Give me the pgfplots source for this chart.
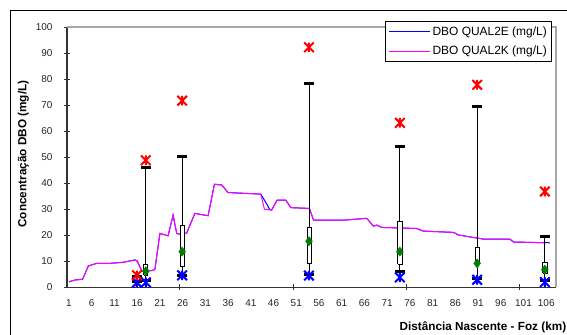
\documentclass[border=0pt]{standalone}
\usepackage{pgfplots}
\pgfplotsset{compat=1.18}
\usepackage{fontspec}
\setmainfont{Liberation Sans}
\definecolor{qblue}{RGB}{0,0,255}
\definecolor{qmag}{RGB}{255,0,255}
\definecolor{qgreen}{RGB}{0,128,0}
\definecolor{qred}{RGB}{255,0,0}
\pgfdeclareplotmark{xstar}{%
  \pgfpathmoveto{\pgfqpoint{-\pgfplotmarksize}{-\pgfplotmarksize}}%
  \pgfpathlineto{\pgfqpoint{\pgfplotmarksize}{\pgfplotmarksize}}%
  \pgfpathmoveto{\pgfqpoint{-\pgfplotmarksize}{\pgfplotmarksize}}%
  \pgfpathlineto{\pgfqpoint{\pgfplotmarksize}{-\pgfplotmarksize}}%
  \pgfpathmoveto{\pgfqpoint{0pt}{-\pgfplotmarksize}}%
  \pgfpathlineto{\pgfqpoint{0pt}{\pgfplotmarksize}}%
  \pgfusepathqstroke}
\begin{document}
\begin{tikzpicture}
\path[use as bounding box] (-67bp,-47.7bp) rectangle (500bp,287.3bp);
\clip (-67bp,-47.7bp) rectangle (500bp,287.3bp);
\draw[black, line width=0.9bp] (-57bp,-80bp) rectangle (540bp,277.3bp);
\begin{axis}[
  scale only axis,
  width=489bp, height=260.3bp,
  xmin=0.56, xmax=108.15, ymin=0, ymax=100,
  clip=false,
  axis x line*=bottom, axis y line*=left,
  axis line style={-, black!80, line width=1.2bp},
  tick align=center,
  major tick length=6bp,
  tick style={black!80, line width=0.9bp},
  ytick={0,10,...,100},
  xtick={25.4,50.35,75.3,100.2},
  xticklabels={,,,},
  extra x ticks={1,6,11,16,21,26,31,36,41,46,51,56,61,66,71,76,81,86,91,96,101,106},
  extra x tick labels={1,6,11,16,21,26,31,36,41,46,51,56,61,66,71,76,81,86,91,96,101,106},
  extra x tick style={major tick length=0pt},
  /pgf/number format/assume math mode=true,
  tick label style={font=\fontsize{10}{12}\selectfont, text=black!85},
  xticklabel style={yshift=-9bp},
  yticklabel style={xshift=-8bp},
  xlabel={\textbf{Distância Nascente - Foz (km)}},
  ylabel={\textbf{Concentração DBO (mg/L)}},
  label style={font=\fontsize{11.8}{14}\selectfont},
  xlabel style={at={(axis description cs:0.673,-0.1525)}, anchor=west},
  ylabel style={at={(axis description cs:-0.089,0.512)}, anchor=center},
  legend style={at={(axis description cs:0.992,1.023)}, anchor=north east,
    draw=black, line width=0.6bp, fill=white,
    font=\fontsize{12}{14}\selectfont, row sep=5bp, inner xsep=3bp, inner ysep=3.5bp},
  legend cell align=left,
  legend image code/.code={\draw[#1] (0bp,0bp) -- (41bp,0bp);},
]
\draw[black!35, line width=1.2bp] (axis cs:0.56,100) -- (axis cs:108.15,100) -- (axis cs:108.15,0);

\addplot[qblue, line width=1bp] coordinates {
(1,2.1)(2.3,2.8)(4.0,3.1)(5.25,8.2)(7.1,9.2)(10,9.2)(12.9,9.6)(15.5,10.5)(16,10.1)
(17,6.4)(19.2,6.4)(19.9,6.9)(21,20.7)(22.8,19.8)(23.9,27.7)(24.7,20.7)(25.8,20.2)
(26.9,20.9)(28.7,28.4)(31.6,27.5)(33,39.6)(34.6,39.3)(36,36.4)(43.2,35.8)(44.5,32.0)
(45.2,29.8)(45.6,29.7)(46.8,33.5)(48.7,33.5)(49.8,30.6)(53.9,30.3)(54.8,25.8)(61.4,25.8)
(66.5,26.5)(68,23.5)(68.7,23.9)(69.8,23.0)(77.5,22.6)(78.9,21.6)(85.6,21.1)(86.7,20.1)
(92.2,18.5)(98,18.5)(98.8,17.4)(106.8,17.1)};
\addlegendentry{DBO QUAL2E (mg/L)}
\addplot[qmag, line width=1bp] coordinates {
(1,2.1)(2.3,2.8)(4.0,3.1)(5.25,8.2)(7.1,9.2)(10,9.2)(12.9,9.6)(15.5,10.5)(16,10.1)
(17,6.4)(19.2,6.4)(19.9,6.9)(21,20.7)(22.8,19.8)(23.9,27.7)(24.7,20.7)(25.8,20.2)
(26.9,20.9)(28.7,28.4)(31.6,27.5)(33,39.6)(34.6,39.3)(36,36.4)(43.2,35.8)(44.0,30.0)
(45.6,29.7)(46.8,33.5)(48.7,33.5)(49.8,30.6)(53.9,30.3)(54.8,25.8)(61.4,25.8)
(66.5,26.5)(68,23.5)(68.7,23.9)(69.8,23.0)(77.5,22.6)(78.9,21.6)(85.6,21.1)(86.7,20.1)
(92.2,18.5)(98,18.5)(98.8,17.4)(105.6,17.1)};
\addlegendentry{DBO QUAL2K (mg/L)}

% whiskers
\addplot[forget plot, black, line width=0.9bp] coordinates {(15.96,2.2)(15.96,4.0)};
\addplot[forget plot, black, line width=0.9bp] coordinates {(17.9,2.5)(17.9,46.0)};
\addplot[forget plot, black, line width=0.9bp] coordinates {(25.9,4.7)(25.9,50.1)};
\addplot[forget plot, black, line width=0.9bp] coordinates {(53.8,5.1)(53.8,78.3)};
\addplot[forget plot, black, line width=0.9bp] coordinates {(73.8,5.9)(73.8,54.0)};
\addplot[forget plot, black, line width=0.9bp] coordinates {(90.8,3.4)(90.8,69.6)};
\addplot[forget plot, black, line width=0.9bp] coordinates {(105.7,2.8)(105.7,19.4)};
% boxes
\addplot[forget plot, draw=black, fill=white, line width=0.8bp] coordinates {(17.45,4.7)(18.35,4.7)(18.35,8.8)(17.45,8.8)(17.45,4.7)};
\addplot[forget plot, draw=black, fill=white, line width=0.8bp] coordinates {(25.45,7.9)(26.35,7.9)(26.35,23.6)(25.45,23.6)(25.45,7.9)};
\addplot[forget plot, draw=black, fill=white, line width=0.8bp] coordinates {(53.35,9.2)(54.25,9.2)(54.25,22.9)(53.35,22.9)(53.35,9.2)};
\addplot[forget plot, draw=black, fill=white, line width=0.8bp] coordinates {(73.35,8.8)(74.25,8.8)(74.25,25.2)(73.35,25.2)(73.35,8.8)};
\addplot[forget plot, draw=black, fill=white, line width=0.8bp] coordinates {(90.35,9.8)(91.25,9.8)(91.25,15.2)(90.35,15.2)(90.35,9.8)};
\addplot[forget plot, draw=black, fill=white, line width=0.8bp] coordinates {(105.25,5.5)(106.15,5.5)(106.15,9.4)(105.25,9.4)(105.25,5.5)};
% caps
\addplot[forget plot, only marks, mark=-, mark size=5.3bp, mark options={black, line width=3bp}] coordinates {
(15.96,2.2)(15.96,4.0)(17.9,2.5)(17.9,46.0)(25.9,4.7)(25.9,50.1)(53.8,5.1)(53.8,78.3)
(73.8,5.9)(73.8,54.0)(90.8,3.4)(90.8,69.6)(105.7,2.8)(105.7,19.4)};
% means
\addplot[forget plot, only marks, mark=diamond*, mark size=4.6bp, mark options={qgreen, fill=qgreen}] coordinates {
(17.9,6.2)(25.9,13.7)(53.8,17.7)(73.8,13.7)(90.8,9.2)(105.7,6.8)};
% minima
\addplot[forget plot, only marks, mark=xstar, mark size=4.8bp, mark options={qblue, line width=2bp}] coordinates {
(15.96,1.8)(17.9,1.9)(25.9,4.6)(53.8,4.5)(73.8,3.8)(90.8,2.9)(105.7,2.0)};
% maxima
\addplot[forget plot, only marks, mark=xstar, mark size=4.8bp, mark options={qred, line width=2bp}] coordinates {
(15.96,4.6)(17.9,48.8)(25.9,71.7)(53.8,92.2)(73.8,63.2)(90.8,77.8)(105.7,36.8)};
\end{axis}
\end{tikzpicture}
\end{document}
